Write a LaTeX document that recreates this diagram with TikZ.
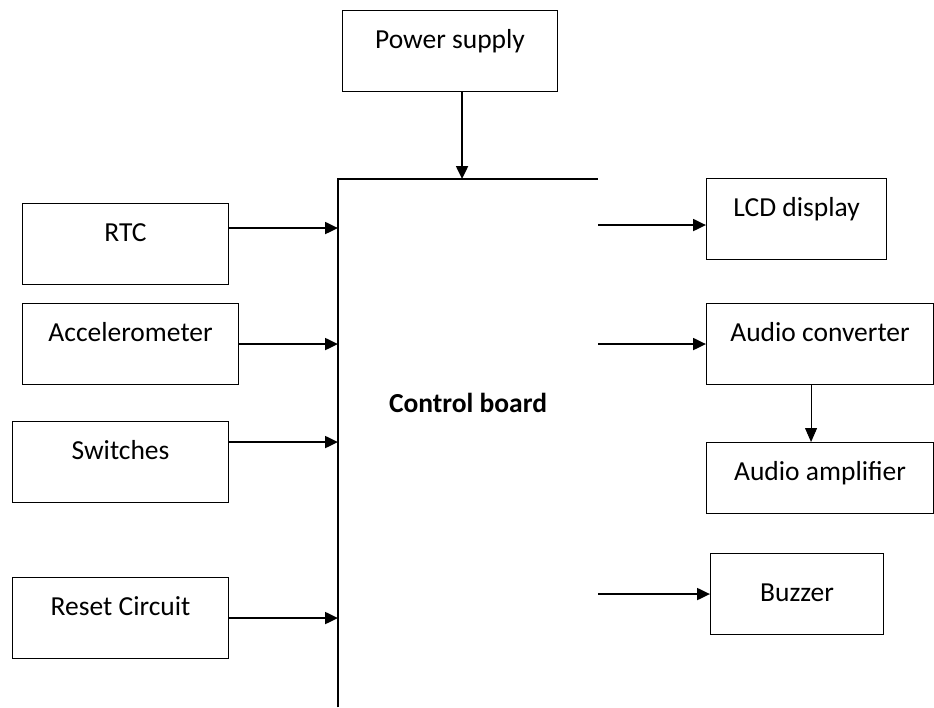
\documentclass[tikz,border=0pt]{standalone}
\usepackage{fontspec}
\setmainfont{Carlito}
\usetikzlibrary{arrows.meta}

\begin{document}
\begin{tikzpicture}[x=1pt, y=-1pt,
        blk/.style={draw, line width=1.1pt, anchor=north west, inner sep=0pt, align=center,
            text height=38pt, text depth=43pt, font=\fontsize{27.5}{32}\selectfont},
        feed/.style={line width=2pt, -{Triangle[length=13pt,width=12pt]}}]
    \useasboundingbox (0,0) rectangle (934,707);
    % blocks
    \node[blk, minimum width=215pt] (power) at (342,10) {Power supply};
    \node[blk, minimum width=206pt] (rtc) at (22,203) {RTC};
    \node[blk, minimum width=216pt] (accel) at (22,303) {Accelerometer};
    \node[blk, minimum width=216pt] (switch) at (12,421) {Switches};
    \node[blk, minimum width=216pt] (reset) at (12,577) {Reset Circuit};
    \node[blk, minimum width=180pt] (lcd) at (706,178) {LCD display};
    \node[blk, minimum width=227pt] (conv) at (706,303) {Audio converter};
    \node[blk, minimum width=227pt, text depth=33pt] (amp) at (706,442) {Audio amplifier};
    \node[blk, minimum width=173pt, text height=48pt, text depth=33pt] (buzz) at (710,553) {Buzzer};
    % control board, open on the right and at the bottom
    \node[anchor=north west, minimum width=260pt, minimum height=528pt, inner sep=0pt] (ctrl) at (338,179) {};
    \draw[line width=2pt] (ctrl.south west) |- (ctrl.north east);
    \node[font=\bfseries\fontsize{27.5}{32}\selectfont] (ctrltxt) at (468,403) {Control board};
    % inputs
    \draw[feed] ([xshift=12pt]power.south) -- ([xshift=12pt]power.south |- ctrl.north);
    \draw[feed] ([yshift=16pt]rtc.east) -- ([yshift=16pt]rtc.east -| ctrl.west);
    \draw[feed] (accel.east) -- (accel.east -| ctrl.west);
    \draw[feed] ([yshift=20pt]switch.east) -- ([yshift=20pt]switch.east -| ctrl.west);
    \draw[feed] (reset.east) -- (reset.east -| ctrl.west);
    % outputs
    \draw[feed] ([yshift=-6pt]ctrl.east |- lcd.west) -- ([yshift=-6pt]lcd.west);
    \draw[feed] (ctrl.east |- conv.west) -- (conv.west);
    \draw[line width=0.9pt, -{Triangle[length=14pt,width=12pt]}] ([xshift=-9pt]conv.south) -- ([xshift=-9pt]amp.north);
    \draw[feed] (ctrl.east |- buzz.west) -- (buzz.west);
\end{tikzpicture}
\end{document}
